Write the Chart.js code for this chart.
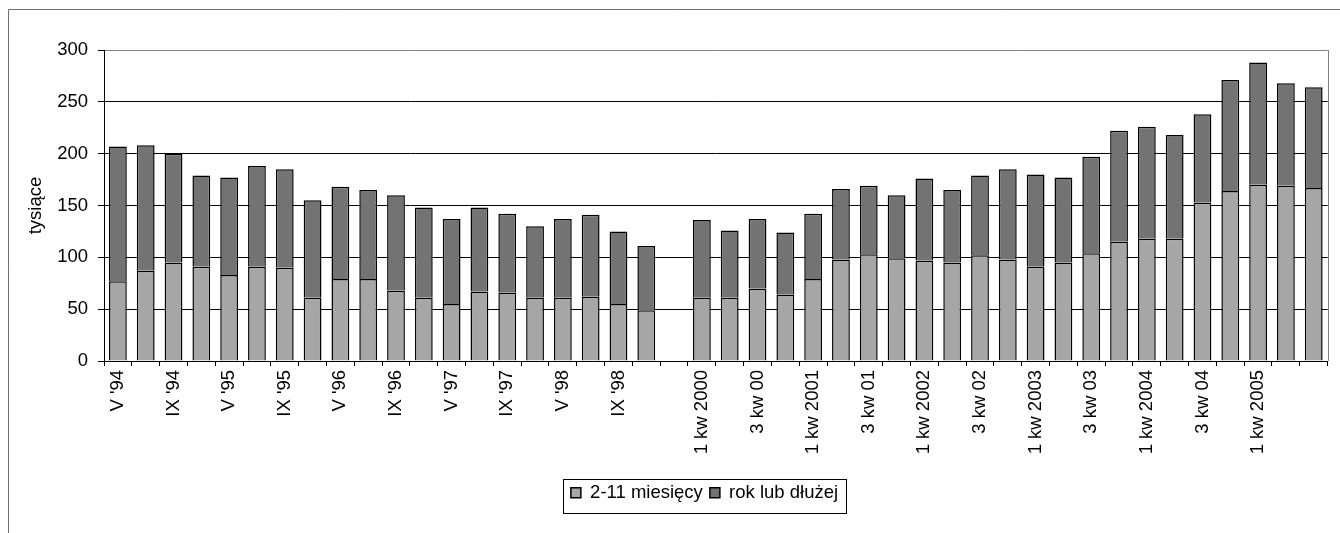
<!DOCTYPE html>
<html>
<head>
<meta charset="utf-8">
<script src="https://cdn.jsdelivr.net/npm/chart.js@4/dist/chart.umd.min.js"></script>
<style>
  html, body { margin: 0; padding: 0; background: #fff; }
  #wrap { position: relative; width: 1340px; height: 533px; }
</style>
</head>
<body>
<div id="wrap"><canvas id="chart"></canvas></div>
<script>
// categories: 1994-1998 surveys, one empty slot, then quarters 2000-2005
const labels = [
  "V '94", "", "IX '94", "", "V '95", "", "IX '95", "", "V '96", "",
  "IX '96", "", "V '97", "", "IX '97", "", "V '98", "", "IX '98", "",
  "",
  "1 kw 2000", "", "3 kw 00", "", "1 kw 2001", "", "3 kw 01", "",
  "1 kw 2002", "", "3 kw 02", "", "1 kw 2003", "", "3 kw 03", "",
  "1 kw 2004", "", "3 kw 04", "", "1 kw 2005", "", ""
];

// 2-11 miesięcy (tysiące)
const shortTerm = [
  77, 87, 95, 91, 83, 91, 90, 61, 79, 79, 68, 61, 55, 67, 66, 61, 61, 62, 55, 49,
  null,
  61, 61, 70, 64, 79, 98, 103, 99, 97, 95, 102, 98, 91, 95, 104, 115, 118, 118,
  153, 164, 170, 169, 167
];

// rok lub dłużej (tysiące)
const longTerm = [
  130, 121, 105, 88, 94, 97, 95, 94, 89, 86, 92, 87, 82, 81, 76, 69, 76, 79, 70, 62,
  null,
  75, 65, 67, 60, 63, 68, 66, 61, 79, 70, 77, 87, 89, 82, 93, 107, 108, 100,
  85, 107, 118, 99, 97
];

const yTicks = { min: 0, max: 300, step: 50 };
const seriesNames = ["2-11 miesięcy", "rok lub dłużej"];
const yTitle = "tysiące";

const FONT = "'Liberation Sans', Arial, sans-serif";
const fontSize = 18.5;

// frame, plot border and legend box like the spreadsheet original
const framePlugin = {
  id: "frame",
  afterLayout(chart) {
    const lg = chart.legend;
    if (lg) {
      lg.left += 26;
      lg.right += 26;
    }
  },
  afterDraw(chart) {
    const ctx = chart.ctx;
    const area = chart.chartArea;
    ctx.save();
    ctx.lineWidth = 1;

    // outer chart frame
    ctx.strokeStyle = "#6e6e6e";
    ctx.beginPath();
    ctx.moveTo(8.5, chart.height);
    ctx.lineTo(8.5, 9.5);
    ctx.lineTo(chart.width, 9.5);
    ctx.stroke();

    // right edge of plot area
    ctx.strokeStyle = "#808080";
    ctx.beginPath();
    ctx.moveTo(Math.round(area.right) + 0.5, area.top);
    ctx.lineTo(Math.round(area.right) + 0.5, area.bottom);
    ctx.stroke();

    // legend border
    const lg = chart.legend;
    if (lg && lg.legendHitBoxes && lg.legendHitBoxes.length) {
      const boxes = lg.legendHitBoxes;
      const x0 = Math.min(...boxes.map((b) => b.left)) - 8;
      const x1 = Math.max(...boxes.map((b) => b.left + b.width)) + 8;
      ctx.strokeStyle = "#000";
      ctx.strokeRect(Math.round(x0) + 0.5, Math.round(lg.top) + 2.5,
        Math.round(x1 - x0), Math.round(lg.bottom - lg.top) - 2);
    }
    ctx.restore();
  },
};

const ctx = document.getElementById("chart").getContext("2d");
new Chart(ctx, {
  type: "bar",
  data: {
    labels: labels,
    datasets: [
      {
        label: seriesNames[0],
        data: shortTerm,
        backgroundColor: "#a6a6a6",
        borderColor: "#000",
        borderWidth: 1.5,
        categoryPercentage: 1,
        barPercentage: 0.64,
      },
      {
        label: seriesNames[1],
        data: longTerm,
        backgroundColor: "#737373",
        borderColor: "#000",
        borderWidth: 1.5,
        categoryPercentage: 1,
        barPercentage: 0.64,
      },
    ],
  },
  options: {
    responsive: true,
    maintainAspectRatio: false,
    animation: false,
    layout: {
      padding: { left: 25, right: 8, top: 50, bottom: 21 },
    },
    plugins: {
      legend: {
        position: "bottom",
        labels: {
          boxWidth: 10,
          boxHeight: 10,
          padding: 7,
          color: "#000",
          font: { family: FONT, size: fontSize },
        },
      },
      tooltip: { enabled: false },
    },
    scales: {
      x: {
        stacked: true,
        offset: true,
        grid: {
          offset: true,
          drawOnChartArea: false,
          tickLength: 5,
          color: "#000",
        },
        border: { color: "#000" },
        ticks: {
          autoSkip: false,
          minRotation: 90,
          maxRotation: 90,
          padding: 4,
          color: "#000",
          font: { family: FONT, size: fontSize },
        },
        afterFit(scale) {
          scale.height = 115.5;
        },
      },
      y: {
        stacked: true,
        min: yTicks.min,
        max: yTicks.max,
        grid: {
          color: (c) => (c.tick && c.tick.value === yTicks.max ? "#808080" : "#000"),
          tickColor: "#000",
          tickLength: 6,
        },
        border: { color: "#000" },
        ticks: {
          stepSize: yTicks.step,
          padding: 10,
          color: "#000",
          font: { family: FONT, size: fontSize },
        },
        title: {
          display: true,
          text: yTitle,
          color: "#000",
          padding: 0,
          font: { family: FONT, size: fontSize },
        },
        afterFit(scale) {
          scale.width = 79;
        },
      },
    },
  },
  plugins: [framePlugin],
});
</script>
</body>
</html>
